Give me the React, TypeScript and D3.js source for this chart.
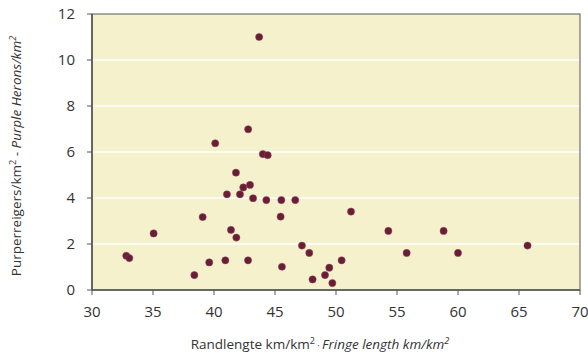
import React from "react";
import * as d3 from "d3";

const xVals = [43.7, 42.8, 40.1, 44.0, 44.4, 41.8, 42.4, 42.95, 41.06, 42.13, 43.2, 44.29, 45.52, 46.66, 39.07, 45.46, 35.05, 41.39, 41.83, 47.21, 47.81, 32.81, 33.06, 39.61, 40.93, 42.79, 45.57, 38.39, 48.08, 49.1, 49.45, 49.7, 50.46, 51.23, 54.29, 55.79, 58.82, 60.0, 65.7];
const yVals = [11.0, 6.99, 6.38, 5.91, 5.86, 5.1, 4.46, 4.57, 4.16, 4.16, 3.99, 3.91, 3.91, 3.91, 3.17, 3.19, 2.46, 2.61, 2.28, 1.93, 1.61, 1.49, 1.39, 1.2, 1.29, 1.29, 1.01, 0.65, 0.46, 0.65, 0.97, 0.3, 1.29, 3.41, 2.57, 1.61, 2.57, 1.61, 1.93];
const xTicks = [30, 35, 40, 45, 50, 55, 60, 65, 70];
const yTicks = [0, 2, 4, 6, 8, 10, 12];

export default function App() {
  const width = 588, height = 354;
  const margin = { top: 14, right: 8, bottom: 64, left: 92 };
  const font = "'Open Sans', 'Noto Sans', sans-serif";

  const x = d3.scaleLinear().domain([30, 70]).range([margin.left, width - margin.right]);
  const y = d3.scaleLinear().domain([0, 12]).range([height - margin.bottom, margin.top]);
  const pts = xVals.map((v, i) => ({ x: v, y: yVals[i] }));
  const x0 = x(30), x1 = x(70), y0 = y(0), y1 = y(12);

  return (
    <svg width={width} height={height} style={{ position: "absolute", left: 0, top: 0 }}>
      <rect x={x0} y={y1} width={x1 - x0} height={y0 - y1} fill="#f5f1cd" />
      {yTicks.filter(t => t > 0 && t < 12).map(t => (
        <line key={t} x1={x0} x2={x1} y1={y(t)} y2={y(t)} stroke="#fff" strokeWidth={1.5} />
      ))}
      <rect x={x0} y={y1} width={x1 - x0} height={y0 - y1} fill="none" stroke="#555" strokeWidth={1} />
      <line x1={x0} x2={x1} y1={y0} y2={y0} stroke="#555" strokeWidth={1.6} />
      <line x1={x0} x2={x0} y1={y1} y2={y0} stroke="#555" strokeWidth={1.6} />
      {yTicks.map(t => (
        <g key={t}>
          <line x1={x0 - 5} x2={x0} y1={y(t)} y2={y(t)} stroke="#555" />
          <text x={x0 - 17} y={y(t)} dy="0.35em" textAnchor="end" fontFamily={font} fontSize={15} fill="#333">{t}</text>
        </g>
      ))}
      {xTicks.map(t => (
        <g key={t}>
          <line x1={x(t)} x2={x(t)} y1={y0} y2={y0 + 5} stroke="#555" />
          <text x={x(t)} y={y0 + 27} textAnchor="middle" fontFamily={font} fontSize={15} fill="#333">{t}</text>
        </g>
      ))}
      {pts.map((p, i) => (
        <circle key={i} cx={x(p.x)} cy={y(p.y)} r={3.6} fill="#6b1d35" stroke="#8a4a5a" strokeWidth={0.5} />
      ))}
      <text x={320} y={349} textAnchor="middle" fontFamily={font} fontSize={13.5} fill="#333">
        Randlengte km/km<tspan fontSize={9} dy={-5}>2</tspan>
        <tspan dy={5} fontSize={9}> · </tspan>
        <tspan fontStyle="italic">Fringe length km/km</tspan>
        <tspan fontStyle="italic" fontSize={9} dy={-5}>2</tspan>
      </text>
      <text transform={`translate(21,${(y0 + y1) / 2 + 4}) rotate(-90)`} textAnchor="middle" fontFamily={font} fontSize={13.5} fill="#333">
        Purperreigers/km<tspan fontSize={9} dy={-5}>2</tspan>
        <tspan dy={5}> - </tspan>
        <tspan fontStyle="italic">Purple Herons/km</tspan>
        <tspan fontStyle="italic" fontSize={9} dy={-5}>2</tspan>
      </text>
    </svg>
  );
}
